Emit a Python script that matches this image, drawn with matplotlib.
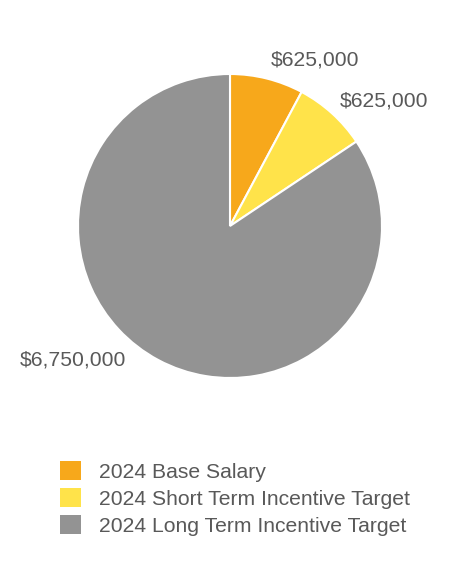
import matplotlib
matplotlib.use("Agg")
import matplotlib.pyplot as plt
from matplotlib.patches import Patch

categories = ["2024 Base Salary", "2024 Short Term Incentive Target", "2024 Long Term Incentive Target"]
values = [625000, 625000, 6750000]
value_labels = ["$625,000", "$625,000", "$6,750,000"]
colors = ["#F7A81B", "#FFE34A", "#939393"]

plt.rcParams['font.family'] = ['Liberation Sans', 'DejaVu Sans']
fig = plt.figure(figsize=(4.6, 5.76), dpi=100)
ax = fig.add_axes([0, 0, 1, 1])

cx, cy, r = 230, 576 - 226, 152
ax.pie(values, colors=colors, startangle=90, counterclock=False,
       center=(cx, cy), radius=r, frame=True,
       wedgeprops=dict(edgecolor='white', linewidth=1.5))
ax.set_xlim(0, 460)
ax.set_ylim(0, 576)
ax.set_aspect('equal')
ax.axis('off')

label_pos = [(315, 576 - 60), (384, 576 - 101), (73, 576 - 360)]
for (x, y), t in zip(label_pos, value_labels):
    ax.text(x, y, t, ha='center', va='center', fontsize=15.2, color='#595959')

handles = [Patch(facecolor=c, edgecolor='none') for c in colors]
leg = fig.legend(handles, categories, loc='upper left', bbox_to_anchor=(60 / 460, 1 - 461 / 576),
                 frameon=False, fontsize=15.2, handlelength=0.98, handleheight=0.98,
                 handletextpad=0.85, labelspacing=0.31, labelcolor='#595959',
                 borderpad=0, borderaxespad=0)

fig.savefig("out.png", dpi=100)
